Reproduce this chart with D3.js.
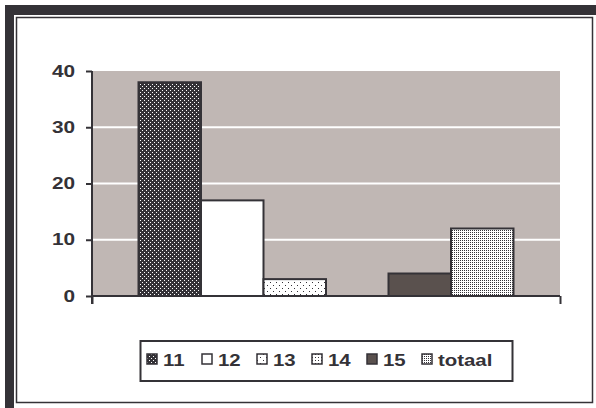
<!DOCTYPE html>
<html>
<head>
<meta charset="utf-8">
<script src="https://cdn.jsdelivr.net/npm/d3@7"></script>
<style>
  body { margin: 0; background: #fff; }
  svg { display: block; }
</style>
</head>
<body>
<div id="chart"></div>
<script>
var series = ["11", "12", "13", "14", "15", "totaal"];
var values = [38, 17, 3, 0, 4, 12];
var categories = [""];
var yTicks = [0, 10, 20, 30, 40];

var width = 596, height = 408;
var dark = "#343237";
var margin = {top: 71, right: 36, bottom: 112, left: 92};

var svg = d3.select("#chart")
    .append("svg")
    .attr("width", width)
    .attr("height", height)
    .attr("font-family", "'Liberation Sans', Arial, sans-serif")
    .attr("font-weight", "bold");

// patterns for the bar fills
var defs = svg.append("defs");
function dots(id, size, bg, fg, pts){
    var p = defs.append("pattern")
        .attr("id", id)
        .attr("patternUnits", "userSpaceOnUse")
        .attr("width", size).attr("height", size);
    p.append("rect").attr("width", size).attr("height", size).attr("fill", bg);
    pts.forEach(function(d){
        p.append("rect").attr("x", d[0]).attr("y", d[1])
            .attr("width", 1).attr("height", 1).attr("fill", fg);
    });
}
dots("p11", 4, dark, "#fff", [[0,0],[2,2]]);
dots("p13", 6, "#fff", dark, [[0,0],[3,3]]);
dots("p14", 3, "#fff", dark, [[0,0]]);
dots("pTot", 2, "#fff", dark, [[0,0]]);

var fill = d3.scaleOrdinal()
    .domain(series)
    .range(["url(#p11)", "#ffffff", "url(#p13)", "url(#p14)", "#5a514e", "url(#pTot)"]);

// frame
svg.append("rect").attr("x", 5).attr("y", 5).attr("width", 591).attr("height", 10).attr("fill", dark);
svg.append("rect").attr("x", 5).attr("y", 5).attr("width", 9).attr("height", 403).attr("fill", dark);
svg.append("rect").attr("x", 16.5).attr("y", 17.5).attr("width", 576).attr("height", 385)
    .attr("fill", "none").attr("stroke", dark).attr("stroke-width", 1.5);

var x0 = d3.scaleBand()
    .domain(categories)
    .range([margin.left, width - margin.right])
    .paddingInner(0)
    .paddingOuter(0.124);
var x1 = d3.scaleBand()
    .domain(series)
    .range([0, x0.bandwidth()]);
var y = d3.scaleLinear()
    .domain([0, 40])
    .range([height - margin.bottom, margin.top]);

// plot area
svg.append("rect")
    .attr("x", margin.left + 1)
    .attr("y", y(40))
    .attr("width", width - margin.right - margin.left - 1)
    .attr("height", y(0) - y(40))
    .attr("fill", "#c0b7b4");

svg.append("g")
    .selectAll("line")
    .data(yTicks.filter(d => d > 0 && d < 40))
    .enter()
    .append("line")
    .attr("x1", margin.left + 1)
    .attr("x2", width - margin.right)
    .attr("y1", d => y(d))
    .attr("y2", d => y(d))
    .attr("stroke", "#fff")
    .attr("stroke-width", 2);

// bars
var data = series.map((s, i) => ({name: s, value: values[i], cat: categories[0]}));
svg.append("g")
    .selectAll("rect")
    .data(data.filter(d => d.value > 0))
    .enter()
    .append("rect")
    .attr("x", d => x0(d.cat) + x1(d.name))
    .attr("y", d => y(d.value))
    .attr("width", x1.bandwidth())
    .attr("height", d => y(0) - y(d.value))
    .attr("fill", d => fill(d.name))
    .attr("stroke", dark)
    .attr("stroke-width", 2);

// axes
var yAxis = svg.append("g")
    .attr("transform", `translate(${margin.left},0)`)
    .call(d3.axisLeft(y).tickValues(yTicks).tickSize(6).tickPadding(11));
var xAxis = svg.append("g")
    .attr("transform", `translate(0,${y(0)})`)
    .call(d3.axisBottom(d3.scaleLinear().domain([0, 1]).range([margin.left, width - margin.right]))
        .tickValues([0, 1]).tickSize(8).tickFormat(""));
[yAxis, xAxis].forEach(function(g){
    g.select(".domain").attr("stroke", dark).attr("stroke-width", 2);
    g.selectAll(".tick line").attr("stroke", dark).attr("stroke-width", 2);
});
xAxis.select(".domain").attr("d", `M${margin.left},0H${width - margin.right}`);
yAxis.select(".domain").attr("d", `M0,${y(40)}V${y(0) + 8}`);
yAxis.selectAll(".tick text")
    .attr("fill", dark)
    .attr("font-size", 16)
    .attr("font-family", "'Liberation Sans', Arial, sans-serif")
    .attr("font-weight", "bold")
    .attr("transform", "translate(-17,0) scale(1.3,1) translate(17,0)");

// legend
var legend = svg.append("g");
legend.append("rect")
    .attr("x", 140.5).attr("y", 341)
    .attr("width", 372).attr("height", 40)
    .attr("fill", "#fff").attr("stroke", dark).attr("stroke-width", 2);
var lx = d3.scalePoint().domain(series).range([147, 422]);
var item = legend.selectAll("g.item")
    .data(series)
    .enter()
    .append("g")
    .attr("class", "item")
    .attr("transform", d => `translate(${lx(d)},354)`);
item.append("rect")
    .attr("width", 10).attr("height", 10)
    .attr("fill", d => fill(d))
    .attr("stroke", dark).attr("stroke-width", 1.5);
item.append("text")
    .attr("x", 16)
    .attr("y", 11.5)
    .attr("fill", dark)
    .attr("font-size", 17)
    .attr("transform", "translate(16,0) scale(1.2,1) translate(-16,0)")
    .text(d => d);
</script>
</body>
</html>
